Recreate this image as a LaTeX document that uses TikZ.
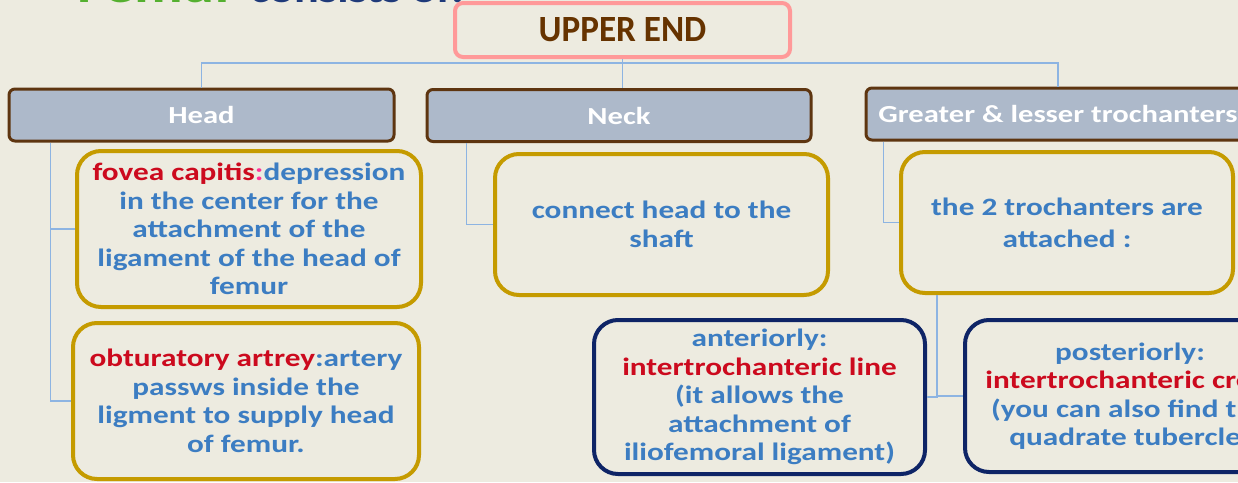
\documentclass[tikz,border=0pt]{standalone}
\usepackage{fontspec}
\setmainfont{Carlito}[FakeStretch=1.25]
\newfontfamily\upfont{Carlito}[FakeStretch=0.95]
\newfontfamily\symfont{DejaVu Sans}
\definecolor{bg}{HTML}{EDEBE0}
\definecolor{pinkb}{HTML}{FF9999}
\definecolor{brownt}{HTML}{663300}
\definecolor{brownb}{HTML}{5E3510}
\definecolor{catfill}{HTML}{ADB9CA}
\definecolor{goldb}{HTML}{C59B00}
\definecolor{navyb}{HTML}{0E2466}
\definecolor{linec}{HTML}{8DB4E2}
\definecolor{bluet}{HTML}{3C7DC2}
\definecolor{redt}{HTML}{CC0A1E}
\definecolor{magt}{HTML}{FF3399}
\definecolor{greent}{HTML}{55B030}
\definecolor{navyt}{HTML}{1F3A7A}
\tikzset{
  topbox/.style={draw=pinkb, line width=4pt, rounded corners=8pt, minimum width=335pt, minimum height=54pt, inner sep=0pt, text=brownt, font=\fontsize{37}{40}\upfont\bfseries},
  catbox/.style={draw=brownb, fill=catfill, line width=3pt, rounded corners=6pt, minimum height=52pt, inner sep=0pt, text=white, font=\fontsize{24.5}{28}\selectfont\bfseries},
  goldbox/.style={draw=goldb, line width=4pt, rounded corners=24pt, inner sep=0pt, align=center, text=bluet, font=\fontsize{25}{28.5}\selectfont\bfseries},
  navybox/.style={draw=navyb, line width=4pt, rounded corners=24pt, inner sep=0pt, align=center, text=bluet, font=\fontsize{25}{28.5}\selectfont\bfseries},
  conn/.style={draw=linec, line width=1.3pt},
}
\begin{document}
\begin{tikzpicture}[x=1pt,y=-1pt]
\fill[bg] (0,0) rectangle (1238,482);
\useasboundingbox (0,0) rectangle (1238,482);
\clip (0,0) rectangle (1238,482);
% partially visible title
\node[anchor=base west, inner sep=0pt, font=\fontsize{48}{52}\selectfont\bfseries] (title) at (18,2)
  {\textcolor{greent}{\symfont\fontsize{30}{30}\selectfont ✓}\hspace{34pt}\textcolor{greent}{Femur} \textcolor{navyt}{\fontsize{37}{40}\selectfont consists of:}};
% nodes
\node[topbox] (upper) at (622.5,30) {\raisebox{-7pt}{UPPER END}};
\node[catbox, minimum width=385pt] (head) at (201.5,115) {Head};
\node[catbox, minimum width=384pt] (neck) at (619,115.5) {Neck};
\node[catbox, minimum width=384pt] (greater) at (1058,114) {Greater \& lesser trochanters};
\node[goldbox, minimum width=344pt, minimum height=156pt] (fovea) at (249,229)
  {\textcolor{redt}{fovea capitis}\textcolor{magt}{:}depression\\in the center for the\\attachment of the\\ligament of the head of\\femur};
\node[goldbox, minimum width=346pt, minimum height=156pt] (obt) at (246,401)
  {\textcolor{redt}{obturatory artrey}:artery\\passws inside the\\ligment to supply head\\of femur.};
\node[goldbox, minimum width=333pt, minimum height=141pt] (connect) at (661.5,224.5)
  {connect head to the\\shaft};
\node[goldbox, minimum width=332pt, minimum height=141pt, font=\fontsize{25}{32}\selectfont\bfseries] (troch) at (1067,222.5)
  {the 2 trochanters are\\attached :};
\node[navybox, minimum width=331pt, minimum height=154pt] (ant) at (759.5,397)
  {anteriorly:\\\textcolor{redt}{intertrochanteric line}\\(it allows the\\attachment of\\iliofemoral ligament)};
\node[navybox, minimum width=330pt, minimum height=152pt] (post) at (1130,396)
  {posteriorly:\\\textcolor{redt}{intertrochanteric crest}\\(you can also find the\\quadrate tubercle)};
% connectors
\draw[conn] (upper.south) -- ++(0,4) -| (head.north);
\draw[conn] (upper.south) -- ++(0,4) -| (greater.north);
\draw[conn] (upper.south) -- (upper.south |- neck.north);
\draw[conn] ([xshift=43pt]head.south west) |- (fovea.west);
\draw[conn] ([xshift=43pt]head.south west) |- (obt.west);
\draw[conn] ([xshift=41pt]neck.south west) |- (connect.west);
\draw[conn] ([xshift=19pt]greater.south west) |- (troch.west);
\draw[conn] ([xshift=-130pt]troch.south) |- (ant.east);
\draw[conn] ([xshift=-130pt]troch.south) |- (post.west);
\end{tikzpicture}
\end{document}
